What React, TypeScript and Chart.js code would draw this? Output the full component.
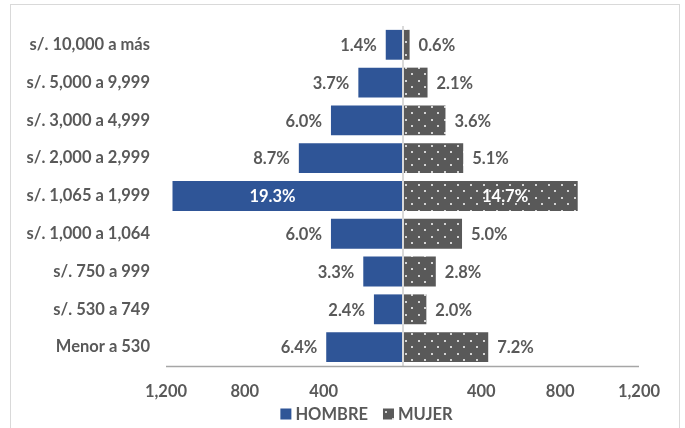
import React, { useEffect, useRef } from "react";
import { Chart, registerables } from "chart.js";

Chart.register(...registerables);

const categories = [
  "s/. 10,000 a más",
  "s/. 5,000 a 9,999",
  "s/. 3,000 a 4,999",
  "s/. 2,000 a 2,999",
  "s/. 1,065 a 1,999",
  "s/. 1,000 a 1,064",
  "s/. 750 a 999",
  "s/. 530 a 749",
  "Menor a 530",
];
const hombreCounts = [85, 224, 363, 526, 1167, 363, 199, 145, 387];
const mujerCounts = [36, 127, 218, 308, 889, 302, 169, 121, 435];
const hombrePct = ["1.4%", "3.7%", "6.0%", "8.7%", "19.3%", "6.0%", "3.3%", "2.4%", "6.4%"];
const mujerPct = ["0.6%", "2.1%", "3.6%", "5.1%", "14.7%", "5.0%", "2.8%", "2.0%", "7.2%"];
const seriesNames = ["HOMBRE", "MUJER"];
const axisMin = -1200;
const axisMax = 1200;
const axisStep = 400;

const TEXT = "#595959";
const BLUE = "#2f5597";
const GRAY = "#595959";
const FONT = "Lato, 'Open Sans', sans-serif";
const FS = 16.5;

function makePattern(): CanvasPattern | string {
  const c = document.createElement("canvas");
  c.width = 13;
  c.height = 13;
  const g = c.getContext("2d");
  if (!g) return GRAY;
  g.fillStyle = GRAY;
  g.fillRect(0, 0, 13, 13);
  g.fillStyle = "#d4d4d4";
  g.fillRect(2, 2, 2, 2);
  g.fillRect(8, 8, 2, 2);
  const p = g.createPattern(c, "repeat");
  return p || GRAY;
}

export default function App() {
  const ref = useRef<HTMLCanvasElement | null>(null);

  useEffect(() => {
    if (!ref.current) return;
    const pattern = makePattern();

    const framePlugin = {
      id: "frame",
      beforeDraw(chart: any) {
        const ctx = chart.ctx;
        ctx.save();
        ctx.fillStyle = "#ffffff";
        ctx.fillRect(0, 0, chart.width, chart.height);
        ctx.strokeStyle = "#d9d9d9";
        ctx.lineWidth = 1;
        ctx.strokeRect(10.5, 4.5, 669, 440);
        ctx.restore();
      },
    };

    const labelPlugin = {
      id: "barLabels",
      afterDatasetsDraw(chart: any) {
        const ctx = chart.ctx;
        const xs = chart.scales.x;
        const { top, bottom, left, right } = chart.chartArea;
        ctx.save();
        // zero (vertical axis) line over the bars
        const zx = Math.round(xs.getPixelForValue(0));
        ctx.strokeStyle = "#d9d9d9";
        ctx.lineWidth = 2;
        ctx.beginPath();
        ctx.moveTo(zx, top);
        ctx.lineTo(zx, bottom);
        ctx.stroke();
        // horizontal axis line
        ctx.strokeStyle = "#a6a6a6";
        ctx.lineWidth = 1.5;
        ctx.beginPath();
        ctx.moveTo(left, bottom + 0.5);
        ctx.lineTo(right, bottom + 0.5);
        ctx.stroke();

        ctx.font = `bold ${FS}px ${FONT}`;
        ctx.textBaseline = "middle";
        chart.data.datasets.forEach((_ds: any, di: number) => {
          const meta = chart.getDatasetMeta(di);
          const labels = di === 0 ? hombrePct : mujerPct;
          meta.data.forEach((bar: any, i: number) => {
            const { x, base, y } = bar.getProps(["x", "base", "y"], true);
            const len = Math.abs(x - base);
            if (len > 150) {
              ctx.fillStyle = "#ffffff";
              ctx.textAlign = "center";
              const shift = di === 0 ? -15 : 15;
              ctx.fillText(labels[i], (x + base) / 2 + shift, y + 1);
            } else if (di === 0) {
              ctx.fillStyle = TEXT;
              ctx.textAlign = "right";
              ctx.fillText(labels[i], Math.min(x, base) - 9, y + 1);
            } else {
              ctx.fillStyle = TEXT;
              ctx.textAlign = "left";
              ctx.fillText(labels[i], Math.max(x, base) + 9, y + 1);
            }
          });
        });
        ctx.restore();
      },
    };

    const legendPlugin = {
      id: "customLegend",
      afterDraw(chart: any) {
        const ctx = chart.ctx;
        ctx.save();
        ctx.font = `bold ${FS}px ${FONT}`;
        ctx.textBaseline = "middle";
        ctx.textAlign = "left";
        const box = 11;
        const gap = 4;
        const spacing = 15;
        const widths = seriesNames.map((n) => box + gap + ctx.measureText(n).width);
        const total = widths.reduce((a, b) => a + b, 0) + spacing;
        const centerX = chart.chartArea.left + 200.5;
        const cy = 415;
        let x = centerX - total / 2;
        chart.data.datasets.forEach((ds: any, i: number) => {
          ctx.fillStyle = ds.backgroundColor;
          ctx.fillRect(x, cy - box / 2 - 1, box, box);
          ctx.fillStyle = TEXT;
          ctx.fillText(seriesNames[i], x + box + gap, cy);
          x += widths[i] + spacing;
        });
        ctx.restore();
      },
    };

    const chart = new Chart(ref.current, {
      type: "bar",
      data: {
        labels: categories,
        datasets: [
          {
            label: seriesNames[0],
            data: hombreCounts.map((v) => -v),
            backgroundColor: BLUE,
            borderWidth: 0,
            barPercentage: 0.79,
            categoryPercentage: 1,
          },
          {
            label: seriesNames[1],
            data: mujerCounts,
            backgroundColor: pattern as any,
            borderWidth: 0,
            barPercentage: 0.79,
            categoryPercentage: 1,
          },
        ],
      },
      options: {
        indexAxis: "y",
        animation: false,
        responsive: false,
        maintainAspectRatio: false,
        layout: { padding: { left: 0, right: 46, top: 24, bottom: 0 } },
        plugins: {
          legend: { display: false },
          tooltip: { enabled: false },
        },
        scales: {
          x: {
            stacked: true,
            min: axisMin,
            max: axisMax,
            afterFit(scale: any) {
              scale.height = 62;
            },
            ticks: {
              stepSize: axisStep,
              padding: 16,
              color: TEXT,
              font: { family: FONT, size: FS, weight: "bold" },
              callback: (v: any) => (Number(v) === 0 ? "" : Math.abs(Number(v)).toLocaleString("en-US")),
              maxRotation: 0,
            },
            grid: { display: false, drawTicks: false },
            border: { display: false },
          },
          y: {
            stacked: true,
            afterFit(scale: any) {
              scale.width = 166;
            },
            ticks: {
              padding: 16,
              color: TEXT,
              font: { family: FONT, size: FS, weight: "bold" },
            },
            grid: { display: false, drawTicks: false },
            border: { display: false },
          },
        },
      },
      plugins: [framePlugin, labelPlugin, legendPlugin],
    });
    return () => chart.destroy();
  }, []);

  return (
    <div style={{ position: "absolute", left: 0, top: 0, width: 685, height: 428, overflow: "hidden", background: "#fff" }}>
      <canvas ref={ref} width={685} height={428} style={{ position: "absolute", left: 0, top: 0, width: 685, height: 428 }} />
    </div>
  );
}
